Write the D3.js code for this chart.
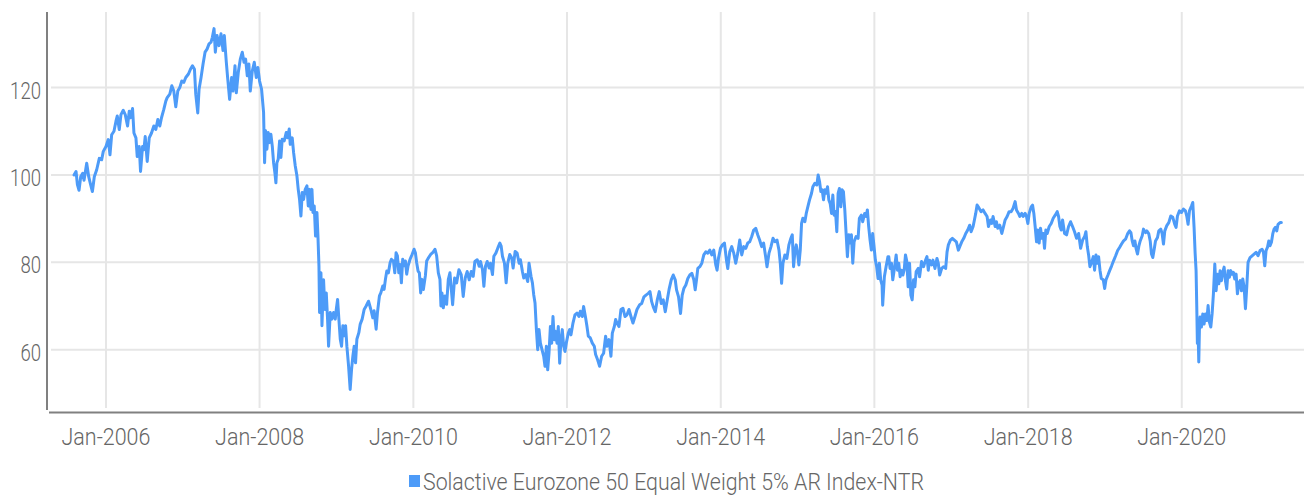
<!DOCTYPE html>
<html>
<head>
<meta charset="utf-8">
<script src="https://cdn.jsdelivr.net/npm/d3@7/dist/d3.min.js"></script>
<style>
  html, body { margin: 0; padding: 0; background: #fff; }
  svg { display: block; }
  text { font-family: Roboto, "Noto Sans", sans-serif; font-weight: 300; fill: #666; }
</style>
</head>
<body>
<svg id="chart" width="1304" height="496"></svg>
<script>
// ---- data (dates as decimal years) ----
const seriesName = "Solactive Eurozone 50 Equal Weight 5% AR Index-NTR";
const xTickYears = [2006, 2008, 2010, 2012, 2014, 2016, 2018, 2020];
const yTickValues = [60, 80, 100, 120];
const xDomainYears = [2005.258, 2021.589];
const yDomain = [46.2, 137.3];

const dateYears = [
2005.584,2005.610,2005.628,2005.649,2005.671,2005.697,2005.714,2005.749,2005.775,2005.801,
2005.823,2005.848,2005.879,2005.913,2005.944,2005.965,2006.000,2006.030,2006.052,2006.074,
2006.104,2006.130,2006.147,2006.173,2006.195,2006.225,2006.251,2006.281,2006.303,2006.320,
2006.346,2006.364,2006.390,2006.407,2006.433,2006.450,2006.476,2006.494,2006.511,2006.537,
2006.563,2006.593,2006.623,2006.649,2006.675,2006.701,2006.723,2006.753,2006.779,2006.797,
2006.831,2006.857,2006.883,2006.909,2006.935,2006.961,2006.987,2007.013,2007.039,2007.074,
2007.100,2007.126,2007.152,2007.169,2007.195,2007.212,2007.238,2007.264,2007.290,2007.316,
2007.342,2007.368,2007.385,2007.407,2007.424,2007.446,2007.472,2007.498,2007.524,2007.541,
2007.567,2007.584,2007.610,2007.636,2007.654,2007.680,2007.697,2007.723,2007.749,2007.775,
2007.797,2007.818,2007.840,2007.861,2007.879,2007.905,2007.931,2007.957,2007.978,2008.000,
2008.026,
2008.052,2008.065,2008.078,2008.095,2008.113,2008.130,2008.147,2008.165,2008.182,2008.199,
2008.212,2008.225,2008.242,2008.260,2008.277,2008.294,2008.320,2008.346,2008.364,2008.385,
2008.398,2008.424,2008.442,2008.463,2008.485,2008.502,2008.519,2008.537,2008.554,2008.571,
2008.593,2008.615,2008.632,2008.649,2008.667,2008.680,2008.693,2008.710,2008.727,2008.745,
2008.758,2008.771,2008.779,2008.797,2008.810,2008.831,2008.848,2008.866,2008.883,2008.896,
2008.918,2008.939,2008.961,2008.983,2008.996,2009.013,2009.030,2009.048,2009.065,2009.082,
2009.100,2009.117,2009.134,2009.156,2009.177,2009.195,2009.212,2009.229,2009.247,2009.264,
2009.290,2009.307,2009.333,2009.359,2009.385,2009.416,2009.446,2009.472,2009.489,2009.515,
2009.532,2009.558,2009.576,2009.602,2009.619,2009.636,2009.654,2009.675,2009.697,2009.714,
2009.740,2009.758,2009.775,2009.792,2009.810,2009.827,2009.844,2009.861,2009.879,2009.896,
2009.913,2009.931,2009.957,2009.983,2010.009,2010.026,2010.043,2010.061,2010.078,2010.095,
2010.113,2010.130,2010.156,2010.173,2010.199,2010.225,2010.251,2010.281,2010.303,2010.325,
2010.346,2010.359,2010.372,2010.390,2010.411,2010.433,2010.455,2010.476,
2010.511,2010.537,2010.563,2010.593,2010.623,2010.649,2010.675,2010.701,2010.727,2010.753,
2010.779,2010.801,2010.831,2010.857,2010.874,2010.900,2010.918,2010.939,2010.961,2010.987,
2011.004,2011.030,2011.048,2011.074,2011.100,2011.126,2011.143,2011.160,2011.186,2011.208,
2011.229,2011.255,2011.281,2011.299,2011.325,2011.351,2011.377,2011.394,2011.420,2011.437,
2011.463,2011.489,2011.506,2011.532,2011.550,2011.567,2011.584,2011.602,2011.619,2011.636,
2011.654,2011.675,2011.697,2011.714,2011.732,2011.749,2011.766,2011.784,2011.801,2011.818,
2011.835,2011.853,2011.870,2011.887,2011.905,2011.922,2011.939,2011.957,2011.974,2011.991,
2012.017,2012.035,2012.052,2012.078,2012.104,2012.130,2012.156,2012.173,2012.199,2012.216,
2012.242,2012.260,2012.277,2012.303,2012.329,2012.355,2012.372,2012.398,2012.424,2012.450,
2012.476,2012.502,2012.519,2012.545,2012.571,2012.589,2012.615,2012.632,2012.649,2012.675,
2012.701,2012.727,2012.753,2012.779,2012.805,2012.831,2012.857,2012.883,2012.909,2012.944,
2012.970,2013.000,2013.026,2013.056,2013.078,2013.100,2013.121,2013.147,2013.173,2013.199,
2013.225,2013.251,2013.277,2013.303,2013.329,2013.355,2013.381,2013.407,2013.424,2013.450,
2013.476,2013.498,2013.519,2013.545,2013.571,2013.597,2013.623,2013.649,2013.667,2013.684,
2013.701,2013.727,2013.753,2013.779,2013.805,2013.831,2013.857,2013.883,2013.909,2013.935,
2013.952,2013.970,2013.996,2014.022,2014.048,2014.074,2014.091,2014.117,2014.143,2014.169,
2014.195,2014.221,2014.247,2014.273,2014.299,2014.325,2014.351,2014.377,2014.403,2014.429,
2014.455,2014.481,2014.506,2014.532,2014.558,2014.584,2014.602,2014.628,2014.654,2014.680,
2014.706,2014.732,2014.758,2014.775,2014.792,2014.810,2014.835,2014.861,2014.887,2014.913,
2014.931,2014.948,2014.965,2014.983,2015.000,2015.017,2015.035,2015.052,2015.069,2015.095,
2015.113,2015.139,2015.156,2015.182,2015.199,2015.225,2015.251,2015.268,2015.286,2015.303,
2015.320,2015.338,2015.355,2015.372,2015.390,2015.407,2015.424,2015.442,2015.459,2015.476,
2015.494,2015.511,2015.528,2015.545,2015.563,2015.580,2015.597,2015.615,2015.632,2015.649,
2015.667,2015.684,2015.701,2015.719,2015.736,2015.762,2015.788,2015.805,2015.831,2015.848,
2015.874,2015.892,2015.909,2015.926,2015.944,2015.961,2015.978,2015.996,2016.013,2016.030,
2016.048,2016.065,2016.082,2016.100,2016.108,2016.130,2016.152,2016.177,
2016.187,2016.204,2016.222,2016.239,2016.257,2016.283,2016.300,2016.317,2016.335,2016.352,
2016.370,2016.387,2016.404,2016.422,2016.439,2016.457,2016.474,2016.491,2016.509,2016.526,
2016.543,2016.570,2016.587,2016.613,2016.639,2016.665,2016.683,2016.700,2016.717,2016.744,
2016.761,2016.787,2016.813,2016.830,2016.848,2016.874,2016.900,2016.926,2016.944,2016.961,
2016.987,2017.013,2017.039,2017.065,2017.091,2017.109,2017.135,2017.161,2017.187,2017.213,
2017.239,2017.257,2017.283,2017.300,2017.317,2017.335,2017.361,2017.387,2017.413,2017.439,
2017.465,2017.483,2017.509,2017.526,2017.543,2017.570,2017.587,2017.604,2017.630,2017.657,
2017.674,2017.700,2017.726,2017.752,2017.778,2017.804,2017.830,2017.848,2017.874,2017.891,
2017.917,2017.935,2017.961,2017.978,2017.996,2018.013,2018.039,2018.057,2018.074,2018.091,
2018.109,2018.126,2018.143,2018.161,2018.178,2018.196,2018.213,2018.230,2018.248,2018.274,
2018.300,2018.326,2018.352,2018.378,2018.396,2018.413,2018.430,2018.448,2018.474,2018.500,
2018.526,2018.552,2018.578,2018.604,2018.630,2018.657,2018.683,2018.709,2018.735,2018.752,
2018.770,2018.787,2018.804,2018.830,2018.848,2018.865,2018.883,2018.900,2018.917,2018.935,
2018.952,2018.978,2018.996,2019.013,2019.039,
2019.061,2019.087,2019.113,2019.139,2019.165,2019.190,2019.216,2019.242,2019.268,2019.294,
2019.320,2019.338,2019.355,2019.372,2019.390,2019.407,2019.424,2019.442,2019.459,2019.485,
2019.502,2019.528,2019.545,2019.571,2019.589,2019.606,2019.623,2019.641,2019.658,2019.684,
2019.701,2019.727,2019.745,2019.762,2019.779,2019.805,2019.831,2019.857,2019.883,2019.909,
2019.926,2019.944,2019.970,2019.996,2020.022,2020.048,2020.065,2020.082,2020.100,2020.126,
2020.143,2020.160,2020.173,2020.186,2020.195,2020.203,2020.212,2020.221,2020.229,2020.238,
2020.255,2020.273,2020.290,2020.307,2020.325,2020.342,2020.359,2020.377,2020.394,2020.411,
2020.429,2020.446,2020.463,2020.481,2020.498,2020.515,2020.532,2020.550,2020.567,2020.584,
2020.602,2020.619,2020.636,2020.654,2020.671,2020.688,2020.706,2020.723,2020.740,2020.758,
2020.775,2020.792,2020.810,2020.827,2020.844,2020.861,2020.887,2020.913,2020.939,2020.965,
2020.991,2021.017,2021.043,2021.061,2021.078,2021.095,2021.113,2021.130,2021.147,2021.165,
2021.182,2021.199,2021.216,2021.234,2021.251,2021.277,2021.294
];

const indexValues = [
100,100.8,97.8,96.5,99.6,100.4,98.8,102.7,99.6,97.7,
96.2,99.6,101.2,103.8,103.5,105.4,106.5,108.1,104.6,109.2,
110,112.3,113.5,110.4,113.8,114.8,113.8,111.2,114.6,113.1,
115.2,109.6,108.5,104.2,106.5,100.8,106.5,105.8,108.8,103.1,
108.5,109.6,111.2,110.4,112.7,111.2,113.1,115,116.9,117.7,
118.5,120.4,119.2,115.6,119.2,120,121.5,121.2,122.3,123.1,
124.2,125,124.2,118.5,114.2,119.6,122.3,125.4,128.1,128.8,
130,130.4,131.5,133.5,128.1,131.9,129.6,132.3,128.5,131.9,
125.8,122.3,117.3,122.3,119.2,125,118.8,123.5,126.5,128.1,
125.8,126.5,122.7,125.4,119.2,123.8,125.8,122.3,124.6,121.5,
119.6,
114.3,102.8,110.1,105.9,109.7,107.4,109.3,106.6,102.8,100.5,
98.2,102.8,103.6,107.8,104,108.2,107.8,109.7,108.5,110.5,
107,108.5,105.1,102.1,99.8,96.7,94.4,90.6,96,94.4,
96.7,97.5,92.9,96.7,92.1,96.7,91.4,92.9,86,91.4,
86,79.2,68.5,77.6,65.5,76,69.2,73,67,60.8,
68.5,67,68.5,67,69.2,71.5,67,62.4,60.8,65.5,
63.2,65.5,60.8,56.3,50.9,55.5,58.5,60.8,57,62.4,
63.9,65.8,67,69.2,70,71.1,69.2,67.3,68.9,64.7,
68.5,72.3,73,74.6,73.8,76.1,78,77.6,79.9,80.7,
80.3,77.6,82.2,81.5,77.6,79.5,75.3,80.7,79.2,80.3,
77.3,79.2,80.7,81.8,83,82.2,79.9,78,77.6,73,
76.1,73.8,76.9,80.3,81.1,81.8,82.2,83,81.5,77.6,
76.1,70,73,69.6,72.3,70.4,76.1,77.6,
70.3,76.4,75.3,78.3,77.2,72.2,76.4,77.9,76,77.9,
76.8,80.2,80.6,79.1,80.2,78.3,74.5,79.1,80.2,78.7,
79.8,77.2,81.4,82.1,83.3,84.4,83.7,81.4,79.8,75.3,
79.8,81.8,81,78.7,82.5,82.1,79.8,80.6,77.9,76.4,
77.2,75.6,79.8,76.8,75.3,72.6,70.7,64.6,60,64.6,
61.5,60,58.5,56.2,60.8,55.4,59.2,65.3,61.5,67.6,
62.3,64.2,61.5,65.3,56.9,62.3,64.6,60.8,59.6,61.5,
63.8,64.6,63.4,66.1,68,68.4,67.6,68.8,67.6,69.9,
67.3,65.3,63.1,62.7,61.5,60.8,58.9,57.7,56.2,58.5,
59.2,63.1,60.8,62.3,58.5,63.8,65.3,66.9,66.1,65.3,
69.2,69.5,67.6,68,69.2,67.6,66.1,67.6,69.2,70.3,
70.6,72.1,72.5,72.9,73.3,71,69.8,68.7,71.4,73.3,
70.6,71.4,68.7,71.4,74,76,77.1,76,73.7,72.1,
68.3,72.5,74,74.8,76.3,77.1,77.5,76,73.7,76,
78.6,79,79.8,81.7,82.4,82.1,82.8,81.7,82.8,79.4,
78.2,80.9,83.2,84,84.4,80.5,78.6,82.4,83.6,82.1,
79.8,82.1,85.1,81.7,83.6,83.2,84.4,84.7,85.9,87.4,
87.8,86.3,85.1,83.6,84.4,81.3,79,82.1,83.6,85.5,
84.7,85.1,82.8,79.8,75.2,79.8,81.7,80.9,84,85.5,
86.3,79,82.4,84,82.1,79.4,82.8,88.9,90.1,89.3,
91.2,93.1,94.3,95.8,97.3,98.1,97.7,100,98.5,96.2,
96.6,94.3,96.6,95.8,97.3,94.3,93.5,91.2,95.4,90.8,
91.6,87,95.8,96.9,92.7,96.6,96.2,92,86.6,81.3,
86.3,84.4,86.3,79.8,84.7,85.9,85.5,90.1,90.8,89.3,
91.2,90.5,92,88.2,85.1,82.8,86.6,83.6,80.5,79,
76.3,79.8,76,74.8,70.2,76.7,79,81.3,
81.3,78.6,79.8,76,78.2,81.7,78.2,79.8,76.7,78.2,
77.1,78.2,81.7,80.2,74.4,79.8,72.5,71.4,76,74.4,
77.9,78.6,76.7,80.2,79,80.5,81.3,78.2,80.5,79.4,
80.5,78.6,80.9,79.8,77.1,78.6,79,78.6,82.4,84,
85.1,85.5,85.1,84.7,82.8,83.6,84.7,85.5,86.6,87.4,
88.5,87,88.2,89.7,91.2,93.1,92.4,91.6,92,91.2,
90.5,88.2,89.7,88.9,90.5,88.2,89.3,87.8,88.5,86.6,
87.8,89.7,90.5,91.6,91.6,92.4,93.9,92,91.2,90.5,
91.2,90.5,91.2,90.5,88.9,91.2,92.7,93.1,91.2,88.2,
84.7,87.4,84.4,87.8,85.5,86.6,83.2,87.4,86.6,88.2,
88.9,90.1,90.8,91.6,90.5,88.2,87.4,89.7,86.6,86.3,
88.2,89.3,88.2,87,85.5,86.6,83.2,85.1,85.9,87,
83.6,81.7,79,80.2,81.3,78.2,81.7,79.8,81.3,78.2,
76.3,76,74,76,77.1,
78.1,79.2,80.4,81.5,82.7,83.4,84.2,84.9,85.3,86.5,
87.2,86.8,84.9,83.8,84.9,83,81.9,83.8,84.9,86.1,
87.6,86.8,87.2,86.5,84.9,81.9,81.1,83,84.9,85.7,
87.2,87.6,86.5,84.2,87.2,88.4,89.1,90.6,90.3,88.7,
88,90.6,91.8,91.4,92.2,91.8,90.6,88.7,91.8,92.9,
93.7,88,82.3,78.1,69.7,61.4,64.4,57.2,64.4,67.5,
65.2,68.2,65.9,68.2,66.7,70.1,66.3,65.2,68.2,72.8,
79.6,73.5,77.3,75.1,78.1,75.8,77.7,78.9,75.8,73.9,
78.1,76.6,78.1,77.3,77.7,76.2,77.3,72.8,75.1,75.8,
73.5,76.2,74.3,69.4,74.3,80,81.1,81.5,81.9,82.3,
81.5,82.7,83,82.3,79.2,82.7,83.4,84.9,83.8,84.6,
86.5,87.6,88,87.2,88.7,89.1,89.1
];

// ---- helpers ----
function yearToDate(t) {
  const y = Math.floor(t);
  const start = Date.UTC(y, 0, 1), end = Date.UTC(y + 1, 0, 1);
  return new Date(start + (t - y) * (end - start));
}
const data = dateYears.map((t, i) => ({ date: yearToDate(t), value: indexValues[i] }));

// ---- layout ----
const plotLeft = 49, plotRight = 1304, plotTop = 12, plotBottom = 410;

const svg = d3.select("#chart");
const x = d3.scaleUtc()
  .domain(xDomainYears.map(yearToDate))
  .range([plotLeft, plotRight]);
const y = d3.scaleLinear()
  .domain(yDomain)
  .range([plotBottom, plotTop]);

const xTicks = xTickYears.map(yv => new Date(Date.UTC(yv, 0, 1)));
const fmt = d3.utcFormat("%b-%Y");

// gridlines
svg.append("g").selectAll("line").data(yTickValues).join("line")
  .attr("x1", plotLeft + 2).attr("x2", plotRight)
  .attr("y1", d => y(d)).attr("y2", d => y(d))
  .attr("stroke", "#e6e6e6").attr("stroke-width", 2);
svg.append("g").selectAll("line").data(xTicks).join("line")
  .attr("x1", d => x(d)).attr("x2", d => x(d))
  .attr("y1", plotTop).attr("y2", plotBottom - 2)
  .attr("stroke", "#e6e6e6").attr("stroke-width", 2);

// axis lines
svg.append("line").attr("x1", 47).attr("x2", 47).attr("y1", plotTop).attr("y2", plotBottom)
  .attr("stroke", "#808080").attr("stroke-width", 2);
svg.append("line").attr("x1", 49).attr("x2", plotRight).attr("y1", 412.5).attr("y2", 412.5)
  .attr("stroke", "#808080").attr("stroke-width", 2);

// y tick labels
svg.append("g").selectAll("text").data(yTickValues).join("text")
  .attr("x", 41).attr("y", d => y(d) + 11)
  .attr("text-anchor", "end")
  .attr("font-size", 23)
  .attr("textLength", d => String(d).length * 10.3)
  .attr("lengthAdjust", "spacingAndGlyphs")
  .text(d => d);

// x tick labels
svg.append("g").selectAll("text").data(xTicks).join("text")
  .attr("x", d => x(d)).attr("y", 445)
  .attr("text-anchor", "middle")
  .attr("font-size", 23)
  .attr("textLength", 89)
  .attr("lengthAdjust", "spacingAndGlyphs")
  .text(d => fmt(d));

// series line
const line = d3.line().x(d => x(d.date)).y(d => y(d.value));
svg.append("path").datum(data)
  .attr("d", line)
  .attr("fill", "none")
  .attr("stroke", "#4d9bf8")
  .attr("stroke-width", 3)
  .attr("stroke-linejoin", "round")
  .attr("stroke-linecap", "round");

// legend
const lg = svg.append("g");
lg.append("rect").attr("x", 409).attr("y", 475).attr("width", 11).attr("height", 12).attr("fill", "#4d9bf8");
lg.append("text").attr("x", 423).attr("y", 490)
  .attr("font-size", 23)
  .attr("textLength", 501)
  .attr("lengthAdjust", "spacingAndGlyphs")
  .text(seriesName);
</script>
</body>
</html>
